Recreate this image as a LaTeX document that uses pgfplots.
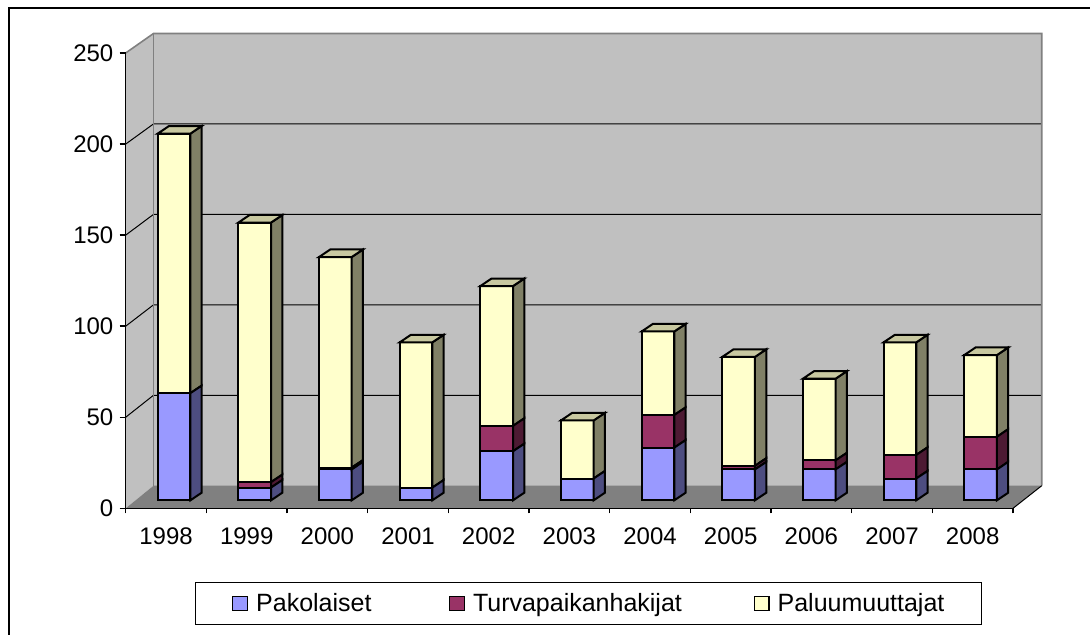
\documentclass[border=0pt]{standalone}
\usepackage{fontspec}
\setmainfont{Liberation Sans}
\usepackage{pgfplots}
\usepackage{pgfplotstable}
\pgfplotsset{compat=1.18}
\definecolor{pfront}{HTML}{9999FF}
\definecolor{pside}{HTML}{4D4D80}
\definecolor{tfront}{HTML}{993366}
\definecolor{tside}{HTML}{4D1A33}
\definecolor{yfront}{HTML}{FFFFCC}
\definecolor{yside}{HTML}{808066}
\definecolor{ytop}{HTML}{C8C8A0}
\definecolor{wall}{HTML}{C0C0C0}
\definecolor{floorc}{HTML}{808080}

\pgfplotstableread{
x P T R
0 59 0 143
1 7 3 143
2 17 1 116
3 7 0 80
4 27 14 77
5 12 0 32
6 29 18 46
7 17 2 60
8 17 5 45
9 12 13 62
10 17 18 45
}\data

% 3D faces of each bar segment, drawn as plot marks at the segment top
\newcommand\sideface[1]{%
  \pgfmathsetlengthmacro\hh{\segh*0.9076pt}%
  \pgfpathmoveto{\pgfqpoint{8.175pt}{0pt}}%
  \pgfpathlineto{\pgfqpoint{13.825pt}{3.8pt}}%
  \pgfpathlineto{\pgfpoint{13.825pt}{3.8pt-\hh}}%
  \pgfpathlineto{\pgfpoint{8.175pt}{-\hh}}%
  \pgfpathclose
  \pgfsetfillcolor{#1}%
  \pgfusepath{fill,stroke}}
\pgfdeclareplotmark{sideP}{\sideface{pside}}
\pgfdeclareplotmark{sideT}{\sideface{tside}}
\pgfdeclareplotmark{sideR}{\sideface{yside}%
  \pgfpathmoveto{\pgfqpoint{-8.175pt}{0pt}}%
  \pgfpathlineto{\pgfqpoint{-2.525pt}{3.8pt}}%
  \pgfpathlineto{\pgfqpoint{13.825pt}{3.8pt}}%
  \pgfpathlineto{\pgfqpoint{8.175pt}{0pt}}%
  \pgfpathclose
  \pgfsetfillcolor{ytop}%
  \pgfusepath{fill,stroke}}

\begin{document}
\begin{tikzpicture}[x=1pt, y=1pt, font=\fontsize{12}{14}\selectfont]
\useasboundingbox (-67.85,-66.85) rectangle (477.15,250.15);
\draw[line width=1pt] (-63.35,-80) rectangle (490,246.15);
% left wall
\fill[wall] (-5,-4) -- (-5,223.65) -- (8.9,233.4) -- (8.9,7.3) -- cycle;
% back wall
\fill[wall] (8.9,7.3) rectangle (453,233.4);
% floor
\fill[floorc] (-5,-4) -- (438.65,-4) -- (453,7.3) -- (8.9,7.3) -- cycle;
% gridlines
\foreach \yf/\yb in {41.53/52.52, 87.06/97.74, 132.59/142.96, 178.12/188.18}
  {\draw[black, line width=0.5pt] (-5,\yf) -- (8.9,\yb) -- (453,\yb);}
% wall borders
\draw[floorc, line width=0.8pt] (-5,223.65) -- (8.9,233.4) -- (453,233.4) -- (453,7.3);
\draw[floorc, line width=0.8pt] (8.9,7.3) -- (8.9,233.4);
\draw[black, line width=0.5pt] (438.65,-4) -- (453,7.3);

% front frame axis with ticks and labels
\begin{axis}[scale only axis, width=443.65pt, height=227.65pt,
  xshift=-5pt, yshift=-4pt,
  xmin=-0.5, xmax=10.5, ymin=0, ymax=250,
  axis x line*=bottom, axis y line*=left,
  axis line style={black, line width=0.7pt, -},
  tick style={black, line width=0.7pt},
  tick align=outside,
  major tick length=3pt, minor tick length=2.5pt,
  ytick={0,50,...,250},
  xtick={0,...,10},
  xticklabels={1998,1999,2000,2001,2002,2003,2004,2005,2006,2007,2008},
  major x tick style={draw=none},
  minor xtick={-0.5,0.5,...,10.5},
  /pgf/number format/assume math mode=true,
  xticklabel style={anchor=north, inner sep=0pt, yshift=-6.5pt},
  yticklabel style={anchor=east, inner sep=0pt, xshift=-3pt},
  ]
\addplot[draw=none] coordinates {(0,0)};
\end{axis}

% bars in their own plane
\begin{axis}[scale only axis, width=443.6pt, height=226.9pt,
  xshift=-1pt,
  xmin=-0.5, xmax=10.5, ymin=0, ymax=250,
  ybar stacked, bar width=16.35pt, hide axis, clip=false,
  legend columns=3,
  legend style={at={(0.5124,-0.2274)}, anchor=center,
    draw=black, line width=0.6pt,
    inner xsep=18.5pt, inner ysep=5.4pt,
    font=\fontsize{12.5}{15}\selectfont,
    nodes={inner sep=0pt},
    /tikz/every odd column/.append style={column sep=4pt},
    /tikz/every even column/.append style={column sep=0pt}},
  legend image code/.code={\draw[#1, line width=0.6pt] (0pt,-3.6pt) rectangle (7.4pt,3.6pt);},
  ]
\addplot[draw=black, line width=1pt, fill=pfront,
  mark=sideP, mark options={draw=black, line width=1pt, solid},
  visualization depends on={\thisrow{P} \as \segh}]
  table[x=x, y=P] {\data};
\addlegendentry{\makebox[96.4pt][l]{Pakolaiset}}
\addplot[draw=black, line width=1pt, fill=tfront,
  mark=sideT, mark options={draw=black, line width=1pt, solid},
  visualization depends on={\thisrow{T} \as \segh}]
  table[x=x, y=T] {\data};
\addlegendentry{\makebox[140.3pt][l]{Turvapaikanhakijat}}
\addplot[draw=black, line width=1pt, fill=yfront,
  mark=sideR, mark options={draw=black, line width=1pt, solid},
  visualization depends on={\thisrow{R} \as \segh}]
  table[x=x, y=R] {\data};
\addlegendentry{Paluumuuttajat}
\end{axis}
\end{tikzpicture}
\end{document}
